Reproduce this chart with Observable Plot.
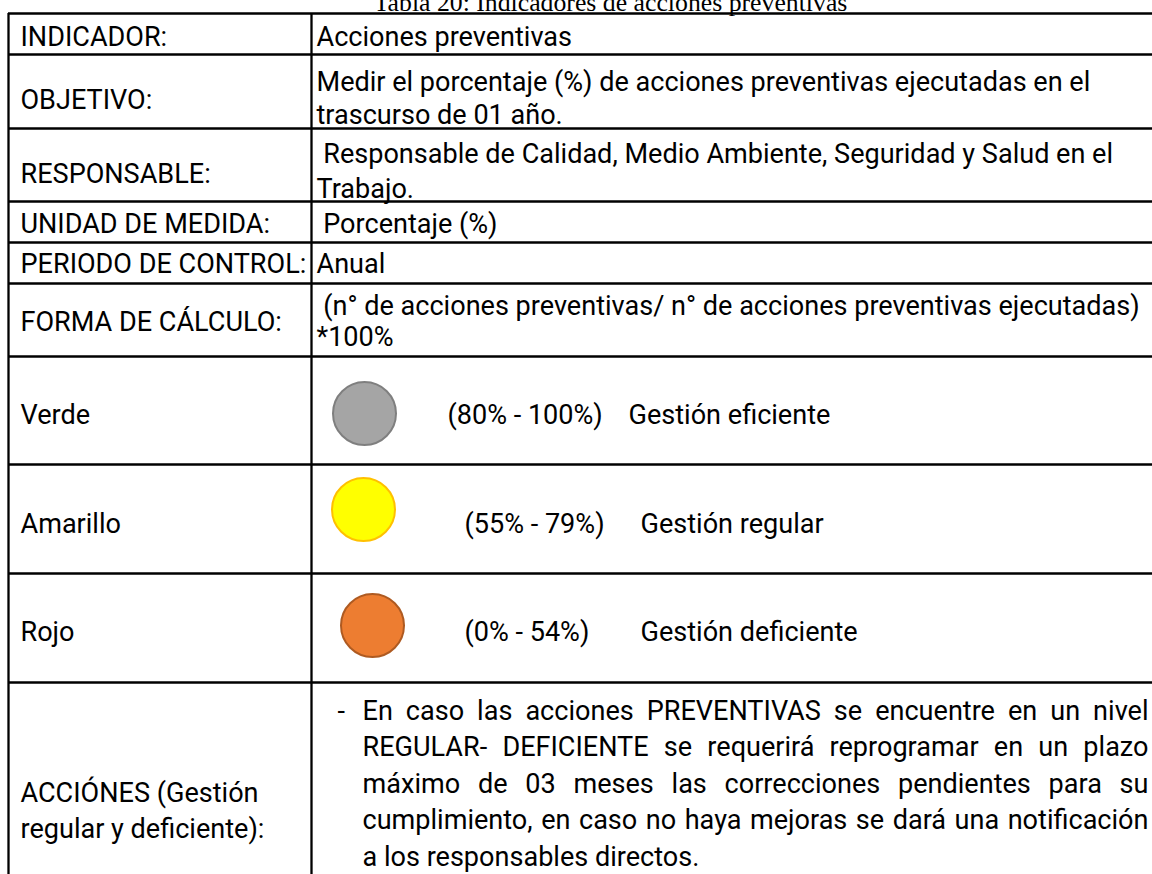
<!DOCTYPE html>
<html>
<head>
<meta charset="utf-8">
<script src="https://cdn.jsdelivr.net/npm/d3@7"></script>
<script src="https://cdn.jsdelivr.net/npm/@observablehq/plot@0.6"></script>
<style>
  html, body { margin: 0; padding: 0; background: #ffffff; }
  #chart svg text { white-space: pre; }
</style>
</head>
<body>
<div id="chart"></div>
<script>
// ---------------- DATA ----------------
const tableTitle = "Tabla 20: Indicadores de acciones preventivas";

const fieldLabels = [
  "INDICADOR:",
  "OBJETIVO:",
  "RESPONSABLE:",
  "UNIDAD DE MEDIDA:",
  "PERIODO DE CONTROL:",
  "FORMA DE CÁLCULO:"
];

const fieldValues = [
  ["Acciones preventivas"],
  ["Medir el porcentaje (%) de acciones preventivas ejecutadas en el", "trascurso de 01 año."],
  [" Responsable de Calidad, Medio Ambiente, Seguridad y Salud en el", "Trabajo."],
  [" Porcentaje (%)"],
  ["Anual"],
  [" (n° de acciones preventivas/ n° de acciones preventivas ejecutadas)", "*100%"]
];

const levelNames = ["Verde", "Amarillo", "Rojo"];
const levelLow = [80, 55, 0];
const levelHigh = [100, 79, 54];
const levelText = ["Gestión eficiente", "Gestión regular", "Gestión deficiente"];
const levelFill = ["#a5a5a5", "#ffff00", "#ed7d31"];
const levelStroke = ["#7f7f7f", "#ffc000", "#ae5a21"];

const actionLabel = ["ACCIÓNES (Gestión", "regular y deficiente):"];
const actionBullet = "-";
const actionLines = [
  "En caso las acciones PREVENTIVAS se encuentre en un nivel",
  "REGULAR- DEFICIENTE se requerirá reprogramar en un plazo",
  "máximo de 03 meses las correcciones pendientes para su",
  "cumplimiento, en caso no haya mejoras se dará una notificación",
  "a los responsables directos."
];

// ---------------- LAYOUT ----------------
const W = 1152, H = 874;
const FONT = "Roboto, 'Noto Sans', sans-serif";
const SERIF = "'Liberation Serif', 'DejaVu Serif', serif";
const ctx = document.createElement("canvas").getContext("2d");
function measure(str, size, fam) { ctx.font = `${size}px ${fam}`; return ctx.measureText(str).width; }
// body font sized so that the long OBJETIVO line spans the same width as in the table
const fs = 100 * 774 / measure(fieldValues[1][0], 100, FONT);
const titleFs = 100 * 474 / measure(tableTitle, 100, SERIF);

const xLeft = 8, xDiv = 311, xRight = 1160;
const rowTops = [13, 54, 128, 201, 242, 283, 356, 464, 573, 682];
const rowBottomLast = 900;
const labelX = 20, valueX = 316;

// baselines of text lines
const labelBase = [45, 108, 182, 232, 272, 330];
const valueBase = [[45], [90, 123], [162, 197], [232], [272], [314, 345]];
const levelBase = [423, 532, 640];
const levelCx = [364, 363, 372];
const levelCy = [413, 509, 625];
const levelPctX = [447, 464, 464];
const levelTxtX = [628, 640, 640];
const actBase0 = 719, actStep = 36.5;
const actLabelBase = [801, 837];
const bulletX = 337, actX0 = 362, actX1 = 1148;

// ---------------- BUILD MARK DATA ----------------
const hLines = rowTops.map(y => ({x1: xLeft, x2: xRight, y}));
const vLines = [xLeft, xDiv].map(x => ({x, y1: rowTops[0], y2: rowBottomLast}));

const texts = [];
fieldLabels.forEach((t, i) => texts.push({x: labelX, y: labelBase[i], text: t}));
fieldValues.forEach((lines, i) => lines.forEach((t, j) => texts.push({x: valueX, y: valueBase[i][j], text: t})));
levelNames.forEach((t, i) => {
  texts.push({x: labelX, y: levelBase[i], text: t});
  texts.push({x: levelPctX[i], y: levelBase[i], text: `(${levelLow[i]}% - ${levelHigh[i]}%)`});
  texts.push({x: levelTxtX[i], y: levelBase[i], text: levelText[i]});
});
actionLabel.forEach((t, i) => texts.push({x: labelX, y: actLabelBase[i], text: t}));
texts.push({x: bulletX, y: actBase0, text: actionBullet});

// justified paragraph: distribute words across the line width (last line left-aligned)
actionLines.forEach((line, i) => {
  const y = actBase0 + i * actStep;
  const words = line.split(" ");
  if (i === actionLines.length - 1) { texts.push({x: actX0, y, text: line}); return; }
  const widths = words.map(w => measure(w, fs, FONT));
  const gap = (actX1 - actX0 - d3.sum(widths)) / (words.length - 1);
  let x = actX0;
  words.forEach((w, k) => { texts.push({x, y, text: w}); x += widths[k] + gap; });
});

const levels = levelNames.map((n, i) => ({name: n, cx: levelCx[i], cy: levelCy[i], fill: levelFill[i], stroke: levelStroke[i]}));

const chart = Plot.plot({
  width: W, height: H,
  margin: 0,
  x: {domain: [0, W], range: [0, W], axis: null},
  y: {domain: [0, H], range: [0, H], axis: null},
  color: {type: "identity"},
  style: {background: "#ffffff", overflow: "hidden"},
  marks: [
    Plot.ruleY(hLines, {x1: "x1", x2: "x2", y: "y", stroke: "#000", strokeWidth: 2.3}),
    Plot.ruleX(vLines, {x: "x", y1: "y1", y2: "y2", stroke: "#000", strokeWidth: 2.3}),
    Plot.dot(levels, {x: "cx", y: "cy", r: 31.5, fill: "fill", stroke: "stroke", strokeWidth: 2}),
    Plot.text(texts, {x: "x", y: "y", text: "text", textAnchor: "start", lineAnchor: "bottom",
      fontSize: fs, fontFamily: FONT, fill: "#000"}),
    Plot.text([tableTitle], {x: () => 610, y: () => 10, text: d => d, textAnchor: "middle", lineAnchor: "bottom",
      fontSize: titleFs, fontFamily: SERIF, fill: "#000"})
  ]
});
document.getElementById("chart").appendChild(chart);
</script>
</body>
</html>
